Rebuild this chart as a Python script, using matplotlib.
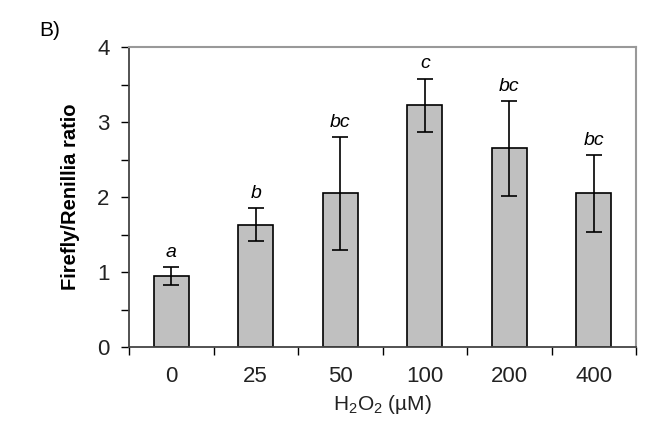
import matplotlib.pyplot as plt
import numpy as np

plt.rcParams['font.family'] = ['Liberation Sans', 'DejaVu Sans']
plt.rcParams['mathtext.fontset'] = 'custom'
plt.rcParams['mathtext.rm'] = 'Liberation Sans'

# data
doses = ['0', '25', '50', '100', '200', '400']
ratio = [0.95, 1.63, 2.05, 3.22, 2.65, 2.05]
err = [0.12, 0.22, 0.75, 0.36, 0.63, 0.51]
letters = ['a', 'b', 'bc', 'c', 'bc', 'bc']

fig = plt.figure(figsize=(6.72, 4.46), dpi=100)
ax = fig.add_axes([129 / 672, 1 - 347 / 446, (636 - 129) / 672, 300 / 446])

x = np.arange(len(doses))
ax.bar(x, ratio, width=0.42, color='#c0c0c0', edgecolor='black', linewidth=1.2, zorder=2)
ax.errorbar(x, ratio, yerr=err, fmt='none', ecolor='black', elinewidth=1.2,
            capsize=5.5, capthick=1.2, zorder=3)

# significance letters above the error bars
for xi, v, e, t in zip(x, ratio, err, letters):
    ax.text(xi, v + e + 0.08, t, ha='center', va='bottom', fontsize=14, style='italic')

ax.set_xlim(-0.5, len(doses) - 0.5)
ax.set_ylim(0, 4)
ax.set_yticks([0, 1, 2, 3, 4])
ax.set_yticks([0.5, 1.5, 2.5, 3.5], minor=True)
ax.set_xticks(x)
ax.set_xticklabels(doses)
ax.set_xticks(np.arange(-0.5, len(doses)), minor=True)
ax.tick_params(axis='x', which='major', length=0, labelsize=16, pad=14, labelcolor='#222222')
ax.tick_params(axis='x', which='minor', length=6, width=1, direction='out')
ax.tick_params(axis='y', which='major', length=6, width=1, labelsize=16, pad=8, labelcolor='#222222')
ax.tick_params(axis='y', which='minor', length=6, width=1)

for s in ['top', 'right']:
    ax.spines[s].set_color('#999999')
    ax.spines[s].set_linewidth(1.5)
for s in ['left', 'bottom']:
    ax.spines[s].set_color('#444444')
    ax.spines[s].set_linewidth(1.3)

ax.set_ylabel('Firefly/Renillia ratio', fontsize=14.5, fontweight='bold', labelpad=12)
ax.set_xlabel('H$_2$O$_2$ (\u00b5M)', fontsize=15, labelpad=4, color='#222222')
fig.text(50 / 672, 1 - 30 / 446, 'B)', fontsize=15, ha='center', va='center')

fig.savefig('out.png', dpi=100)
